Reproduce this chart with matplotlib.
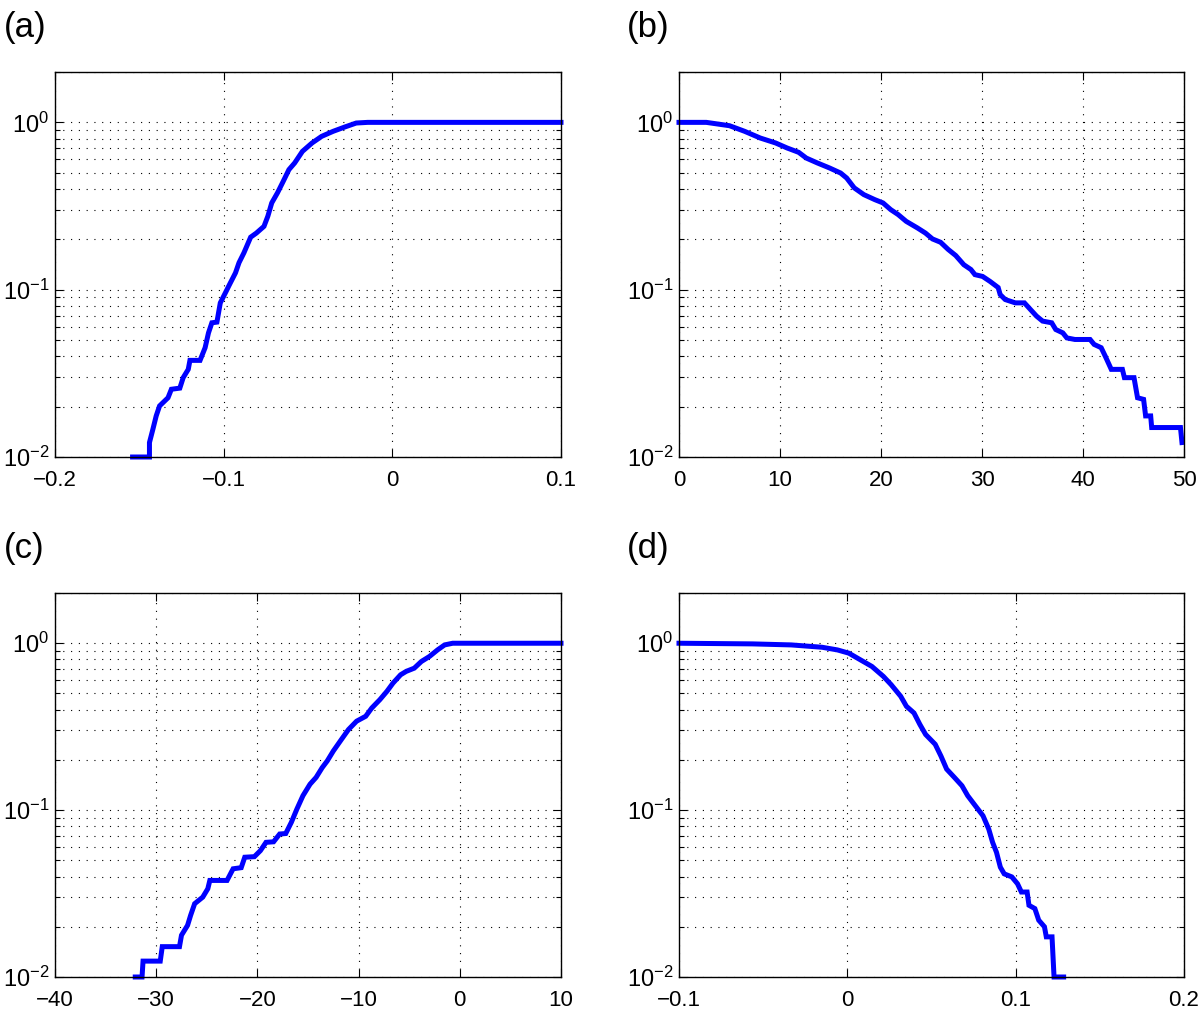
import matplotlib
matplotlib.use("Agg")
import matplotlib.pyplot as plt
import numpy as np
from matplotlib.ticker import FixedLocator, FuncFormatter, LogLocator, NullFormatter

plt.rcParams["font.family"] = ["Liberation Sans", "DejaVu Sans"]
plt.rcParams["mathtext.fontset"] = "custom"
plt.rcParams["mathtext.rm"] = "Liberation Sans"
plt.rcParams["mathtext.it"] = "Liberation Sans:italic"
plt.rcParams["axes.unicode_minus"] = True

# (a) empirical CDF, rising
a_x = [-0.154, -0.144, -0.144, -0.142, -0.140, -0.138, -0.133, -0.131, -0.126,
       -0.124, -0.121, -0.120, -0.114, -0.111, -0.109, -0.107, -0.104, -0.102,
       -0.099, -0.0966, -0.093, -0.0909, -0.088, -0.084, -0.0806, -0.0761,
       -0.0738, -0.0715, -0.0681, -0.0647, -0.0613, -0.0579, -0.0533, -0.0476,
       -0.0419, -0.0351, -0.0282, -0.0214, -0.0146, 0.1]
a_y = [0.01, 0.01, 0.0122, 0.0146, 0.0176, 0.0202, 0.0226, 0.0254, 0.0258,
       0.0298, 0.0334, 0.0378, 0.0378, 0.045, 0.0552, 0.0634, 0.064, 0.0834,
       0.0957, 0.107, 0.126, 0.145, 0.166, 0.206, 0.218, 0.239,
       0.275, 0.33, 0.379, 0.444, 0.522, 0.572, 0.671, 0.753,
       0.825, 0.884, 0.938, 0.991, 1.0, 1.0]

# (b) survival curve, falling
b_x = [0, 2.7, 5.0, 6.5, 8.05, 9.57, 10.7, 11.85, 12.6, 13.7, 14.9, 16.0, 16.6,
       17.35, 18.3, 19.4, 20.2, 20.96, 21.7, 22.5, 23.6, 24.4, 25.1, 25.9,
       26.65, 27.4, 28.2, 28.9, 29.3, 30.06, 30.8, 31.6, 31.8, 32.3, 33.3,
       34.2, 34.8, 35.4, 36.0, 36.9, 37.3, 38.0, 38.4, 39.2, 40.7, 41.1, 41.8,
       42.2, 42.8, 43.9, 44.1, 45.05, 45.4, 46.0, 46.2, 46.7, 46.8, 49.65, 49.8]
b_y = [1.0, 1.0, 0.955, 0.884, 0.806, 0.753, 0.703, 0.662, 0.612, 0.572, 0.534,
       0.498, 0.465, 0.406, 0.370, 0.345, 0.330, 0.301, 0.281, 0.256, 0.234,
       0.218, 0.201, 0.192, 0.174, 0.160, 0.141, 0.132, 0.123, 0.120, 0.112,
       0.103, 0.0935, 0.0873, 0.0834, 0.0834, 0.0761, 0.0695, 0.0649, 0.0634,
       0.0578, 0.0552, 0.0515, 0.0504, 0.0504, 0.0471, 0.045, 0.0401, 0.0334,
       0.0334, 0.0298, 0.0298, 0.0226, 0.0221, 0.0176, 0.0176, 0.015, 0.015,
       0.0122]

# (c) empirical CDF, rising
c_x = [-32.07, -31.4, -31.3, -29.6, -29.4, -27.7, -27.5, -26.9, -26.6, -26.2,
       -25.4, -24.9, -24.7, -23.0, -22.4, -21.6, -21.25, -20.3, -19.7, -19.15,
       -18.4, -17.8, -17.2, -16.65, -16.1, -15.5, -14.8, -14.2, -13.6, -13.1,
       -12.5, -11.7, -11.0, -10.2, -9.3, -8.7, -7.9, -7.2, -6.6, -5.85, -5.3,
       -4.5, -3.8, -3.0, -2.2, -1.5, -0.7, 10]
c_y = [0.01, 0.01, 0.01245, 0.01245, 0.0152, 0.0152, 0.0178, 0.0204, 0.0234,
       0.0275, 0.0301, 0.0338, 0.0379, 0.0379, 0.0445, 0.0452, 0.0522, 0.0526,
       0.0572, 0.0641, 0.0646, 0.0719, 0.0724, 0.0844, 0.1014, 0.122, 0.143,
       0.157, 0.1796, 0.197, 0.226, 0.265, 0.304, 0.341, 0.365, 0.409, 0.459,
       0.515, 0.577, 0.647, 0.678, 0.709, 0.777, 0.833, 0.912, 0.977, 1.0, 1.0]

# (d) survival curve, falling
d_x = [-0.1, -0.0563, -0.0333, -0.015, -0.0059, 0.0009, 0.0077, 0.0146, 0.0214,
       0.026, 0.0317, 0.0351, 0.0396, 0.0431, 0.0465, 0.0522, 0.0556, 0.059,
       0.0636, 0.0681, 0.0715, 0.0761, 0.0806, 0.084, 0.0863, 0.0886, 0.0909,
       0.0932, 0.0977, 0.1011, 0.1034, 0.1068, 0.1079, 0.1114, 0.1137, 0.1171,
       0.1182, 0.1216, 0.1228, 0.1285]
d_y = [1.0, 0.991, 0.977, 0.946, 0.912, 0.872, 0.796, 0.726, 0.633, 0.565,
       0.481, 0.419, 0.382, 0.326, 0.284, 0.248, 0.211, 0.176, 0.157, 0.140,
       0.122, 0.106, 0.0925, 0.077, 0.0641, 0.0559, 0.0455, 0.0415, 0.0398,
       0.0362, 0.0323, 0.0323, 0.0269, 0.0257, 0.0219, 0.02, 0.0174, 0.0174,
       0.01, 0.01]

panel_labels = ["(a)", "(b)", "(c)", "(d)"]
xlims = [(-0.2, 0.1), (0, 50), (-40, 10), (-0.1, 0.2)]
xticks = [[-0.2, -0.1, 0, 0.1], [0, 10, 20, 30, 40, 50],
          [-40, -30, -20, -10, 0, 10], [-0.1, 0, 0.1, 0.2]]
yticks = [0.01, 0.1, 1]
series = [(a_x, a_y), (b_x, b_y), (c_x, c_y), (d_x, d_y)]

W, H = 1200, 1014
fig = plt.figure(figsize=(W / 100, H / 100), dpi=100)

# axes boxes in pixels: left, top, right, bottom
boxes = [(55, 72, 561, 457), (679, 72, 1184, 457),
         (55, 593, 561, 977), (679, 593, 1184, 977)]
label_pos = [(4, 11), (627, 11), (4, 532), (627, 532)]

dots = (0, (1, 6))


def fmt_x(v, pos):
    return ("%g" % v).replace("-", "\u2212")


def fmt_y(v, pos):
    return r"$10^{%d}$" % int(round(np.log10(v)))


for i, ((x, y), box) in enumerate(zip(series, boxes)):
    l, t, r, b = box
    ax = fig.add_axes([l / W, 1 - b / H, (r - l) / W, (b - t) / H])
    ax.plot(x, y, color="#0000ff", lw=3.6, solid_joinstyle="miter", clip_on=False)
    ax.set_yscale("log")
    ax.set_ylim(0.01, 2)
    ax.set_xlim(*xlims[i])
    ax.xaxis.set_major_locator(FixedLocator(xticks[i]))
    ax.xaxis.set_major_formatter(FuncFormatter(fmt_x))
    ax.yaxis.set_major_locator(FixedLocator(yticks))
    ax.yaxis.set_major_formatter(FuncFormatter(fmt_y))
    ax.yaxis.set_minor_locator(LogLocator(base=10, subs=np.arange(2, 10)))
    ax.yaxis.set_minor_formatter(NullFormatter())
    ax.grid(True, which="major", axis="both", color="k", lw=0.8, linestyle=dots)
    ax.grid(True, which="minor", axis="y", color="k", lw=0.8, linestyle=dots)
    ax.tick_params(which="both", direction="in", top=True, right=True,
                   width=0.8, colors="k")
    ax.tick_params(which="major", length=6)
    ax.tick_params(which="minor", length=3.5)
    ax.tick_params(axis="x", pad=9, labelsize=16)
    ax.tick_params(axis="y", pad=4, labelsize=17)
    for s in ax.spines.values():
        s.set_linewidth(1.0)
    ax.set_axisbelow(True)
    px, py = label_pos[i]
    fig.text(px / W, 1 - py / H, panel_labels[i], fontsize=25, va="top", ha="left")

fig.savefig("out.png", dpi=100)
